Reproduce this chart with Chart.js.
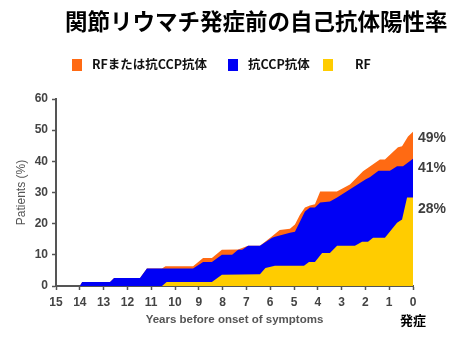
<!DOCTYPE html>
<html><head><meta charset="utf-8">
<script src="https://cdn.jsdelivr.net/npm/chart.js@4.4.1/dist/chart.umd.min.js"></script>
<style>
html,body{margin:0;padding:0;background:#fff;}
#wrap{position:relative;width:474px;height:338px;overflow:hidden;background:#fff;}
canvas{position:absolute;left:0;top:0;}
#title{position:absolute;left:65px;top:8px;font-family:"Noto Sans CJK JP";font-weight:bold;font-size:22.5px;line-height:24px;color:#000;white-space:nowrap;}
.lgt{position:absolute;top:56px;font-family:"Noto Sans CJK JP";font-weight:bold;font-size:12.5px;line-height:15px;color:#111;white-space:nowrap;}
.lgs{position:absolute;top:59px;width:10px;height:12px;}
</style></head><body>
<div id="wrap"><canvas id="c" width="474" height="338"></canvas><div id="title"></div><div id="legend"></div></div>
<script>
// ---- text ----
const titleText = "関節リウマチ発症前の自己抗体陽性率";
const seriesNames = ["RFまたは抗CCP抗体", "抗CCP抗体", "RF"];
const seriesColors = ["#FF6A13", "#0000F5", "#FFCC00"];
const xTitle = "Years before onset of symptoms";
const yTitle = "Patients (%)";
const onsetLabel = "発症";
const endLabels = ["49%", "41%", "28%"];
const xTicks = [15,14,13,12,11,10,9,8,7,6,5,4,3,2,1,0];
const yTicks = [0,10,20,30,40,50,60];

// ---- data (years before onset, % patients) ----
const anyYears  = [14.0,13.9,12.73,12.56,11.47,11.18,10.55,10.4,9.24,8.82,8.45,8.03,7.35,6.93,6.43,5.92,5.6,5.17,4.96,4.75,4.54,4.33,4.12,3.9,3.2,2.65,2.1,1.39,1.18,0.63,0.46,0.21,0];
const anyValues = [0,1.3,1.3,2.6,2.6,5.6,5.6,6.3,6.3,9.0,9.0,11.6,11.7,12.9,12.9,16.0,18.0,18.4,19.7,22.9,25.2,25.8,26.2,30.3,30.3,32.6,36.8,40.6,40.6,44.5,44.8,48.0,49.5];

const ccpYears  = [14.0,13.9,12.73,12.56,11.47,11.18,9.24,8.82,8.45,8.03,7.6,7.35,7.18,6.93,6.43,5.92,5.8,5.17,4.96,4.54,4.33,4.12,3.9,3.49,3.19,2.0,1.8,1.45,0.97,0.67,0.42,0];
const ccpValues = [0,1.3,1.3,2.6,2.6,5.6,5.6,7.7,7.7,10.0,10.0,11.6,11.6,12.9,12.9,15.5,15.8,17.1,17.4,23.9,25.2,25.2,26.8,27.1,28.4,34.2,35.0,37.0,37.0,38.4,38.4,40.8];

const rfYears  = [10.55,10.35,8.45,8.03,6.43,6.2,5.8,4.58,4.37,4.12,3.82,3.49,3.19,2.44,2.14,1.89,1.68,1.18,0.67,0.46,0.25,0];
const rfValues = [0,1.3,1.3,3.6,3.8,5.8,6.5,6.5,7.7,7.7,10.6,10.6,12.9,12.9,14.2,14.2,15.5,15.5,20.3,21.3,28.4,28.4];

// ---- title & legend ----
document.getElementById('title').textContent = titleText;
const lg = document.getElementById('legend');
const swX = [72, 228, 323], txX = [92, 248, 355];
seriesNames.forEach((n, i) => {
  const s = document.createElement('div'); s.className = 'lgs';
  s.style.left = swX[i] + 'px'; s.style.background = seriesColors[i]; lg.appendChild(s);
  const t = document.createElement('div'); t.className = 'lgt';
  t.style.left = txX[i] + 'px'; t.textContent = n; lg.appendChild(t);
});

const mk = (xs, ys) => xs.map((x, i) => ({x: x, y: ys[i]}));
const ds = (i, data) => ({label: seriesNames[i], data: data, backgroundColor: seriesColors[i],
  borderWidth: 0, borderColor: seriesColors[i], fill: 'origin', pointRadius: 0, tension: 0});

const endLabelPlugin = {
  id: 'endLabels',
  afterDraw(chart) {
    const {ctx, chartArea, scales: {x, y}} = chart;
    ctx.save();
    ctx.font = 'bold 14px "Liberation Sans"';
    ctx.fillStyle = '#404040';
    ctx.textBaseline = 'middle';
    ctx.textAlign = 'left';
    const ends = [anyValues[anyValues.length-1], ccpValues[ccpValues.length-1], rfValues[rfValues.length-1]];
    const dy = [6, 9, 12];
    endLabels.forEach((t, i) => ctx.fillText(t, chartArea.right + 5, y.getPixelForValue(ends[i]) + dy[i]));
    ctx.font = 'bold 13px "Noto Sans CJK JP"';
    ctx.fillStyle = '#000';
    ctx.textAlign = 'center';
    ctx.fillText(onsetLabel, x.getPixelForValue(0), chartArea.bottom + 34);
    ctx.restore();
  }
};

const axisColor = '#555';
const tickFont = {family: 'Liberation Sans', weight: 'bold', size: 12};
new Chart(document.getElementById('c'), {
  type: 'line',
  data: {datasets: [ds(2, mk(rfYears, rfValues)), ds(1, mk(ccpYears, ccpValues)), ds(0, mk(anyYears, anyValues))]},
  options: {
    responsive: false, animation: false, devicePixelRatio: 1,
    layout: {padding: {top: 99, right: 61, left: 0, bottom: 0}},
    plugins: {legend: {display: false}, tooltip: {enabled: false}},
    scales: {
      x: {
        type: 'linear', reverse: true, min: 0, max: 15,
        afterBuildTicks: s => { s.ticks = xTicks.map(v => ({value: v})); },
        afterFit: s => { s.height = 52; },
        grid: {drawOnChartArea: false, drawTicks: true, tickLength: 4, tickColor: axisColor, tickWidth: 1.5},
        border: {display: true, color: axisColor, width: 2},
        ticks: {font: tickFont, color: '#444', padding: 5, maxRotation: 0, autoSkip: false},
        title: {display: true, text: xTitle, color: '#555', font: {family: 'Liberation Sans', weight: 'bold', size: 11.5}, padding: {top: 0, bottom: 11}}
      },
      y: {
        min: 0, max: 60,
        afterBuildTicks: s => { s.ticks = yTicks.map(v => ({value: v})); },
        afterFit: s => { s.width = 56; },
        grid: {drawOnChartArea: false, drawTicks: true, tickLength: 4, tickColor: axisColor, tickWidth: 1.5},
        border: {display: true, color: axisColor, width: 2},
        ticks: {font: tickFont, color: '#444', padding: 4},
        title: {display: true, text: yTitle, color: '#555', font: {family: 'Liberation Sans', size: 12}, padding: {top: 14, bottom: 0}}
      }
    }
  },
  plugins: [endLabelPlugin]
});
</script>
</body></html>
